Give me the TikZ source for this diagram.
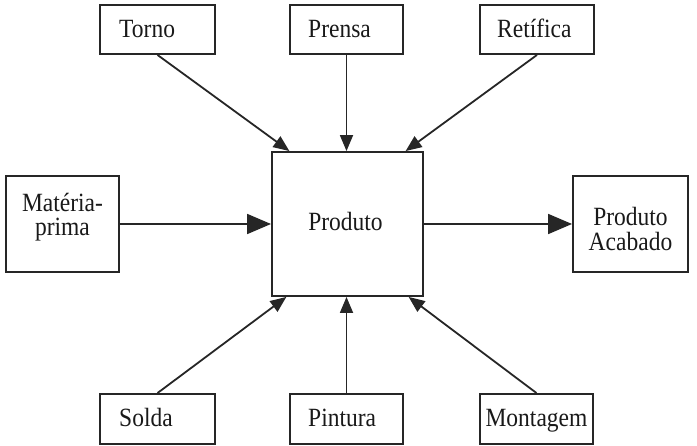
\documentclass[tikz,border=0pt]{standalone}
\usepackage{fontspec}
\usepackage{graphicx}
\setmainfont{Liberation Serif}
\usetikzlibrary{arrows.meta,calc}
\newcommand\vtxt[1]{\scalebox{1}[1.12]{#1}}
\newcommand\vtwo[2]{\scalebox{1}[1.12]{\begin{tabular}{@{}c@{}}#1\\#2\end{tabular}}}
\begin{document}
\begin{tikzpicture}[x=1pt,y=-1pt,
  box/.style={draw=black!85,line width=1.9pt,rectangle,inner sep=0pt},
  lbl/.style={inner sep=0pt,text=black!90,font=\fontsize{23.5}{20.5}\selectfont},
  small/.style={draw=black!85,line width=1.8pt,-{Triangle[length=16pt,width=13pt]}},
  big/.style={draw=black!85,line width=1.8pt,-{Triangle[length=24pt,width=20pt]}}]
\useasboundingbox (0,0) rectangle (697,446);
% boxes
\node[box,minimum width=115pt,minimum height=49pt] (torno) at (157.5,29.5) {};
\node[box,minimum width=113pt,minimum height=49pt] (prensa) at (346.5,29.5) {};
\node[box,minimum width=114pt,minimum height=49pt] (retifica) at (537,29.5) {};
\node[box,minimum width=113pt,minimum height=96pt] (mat) at (62.5,224) {};
\node[box,minimum width=151pt,minimum height=144pt] (prod) at (347.5,224) {};
\node[box,minimum width=115pt,minimum height=96pt] (acab) at (630.5,224) {};
\node[box,minimum width=115pt,minimum height=50pt] (solda) at (157.5,419) {};
\node[box,minimum width=113pt,minimum height=50pt] (pintura) at (346.5,419) {};
\node[box,minimum width=113pt,minimum height=50pt] (montagem) at (536.5,419) {};
% labels
\node[lbl,anchor=base west] (ttorno) at (119,38) {\vtxt{Torno}};
\node[lbl,anchor=base west] (tprensa) at (308,38) {\vtxt{Prensa}};
\node[lbl,anchor=base west] (tretifica) at (497,38) {\vtxt{Retífica}};
\node[lbl] (tmat) at (62.5,218) {\vtwo{Matéria-}{prima}};
\node[lbl,anchor=base] (tprod) at (345.5,231) {\vtxt{Produto}};
\node[lbl] (tacab) at (630.5,232) {\vtwo{Produto}{Acabado}};
\node[lbl,anchor=base west] (tsolda) at (119,427) {\vtxt{Solda}};
\node[lbl,anchor=base west] (tpintura) at (308,427) {\vtxt{Pintura}};
\node[lbl,anchor=base] (tmontagem) at (536.5,427) {\vtxt{Montagem}};
% target points on Produto
\coordinate (pt1) at ($(prod.north west)!0.12!(prod.north east)$);
\coordinate (pt3) at ($(prod.north west)!0.88!(prod.north east)$);
\coordinate (pb1) at ($(prod.south west)!0.10!(prod.south east)$);
\coordinate (pb3) at ($(prod.south west)!0.90!(prod.south east)$);
% connectors
\draw[small] (torno.south) -- (pt1);
\draw[small] (prensa.south) -- (prensa.south |- prod.north);
\draw[small] (retifica.south) -- (pt3);
\draw[big] (mat.east) -- (prod.west);
\draw[big] (prod.east) -- (acab.west);
\draw[small] (solda.north) -- (pb1);
\draw[small] (pintura.north) -- (pintura.north |- prod.south);
\draw[small] (montagem.north) -- (pb3);
\end{tikzpicture}
\end{document}
